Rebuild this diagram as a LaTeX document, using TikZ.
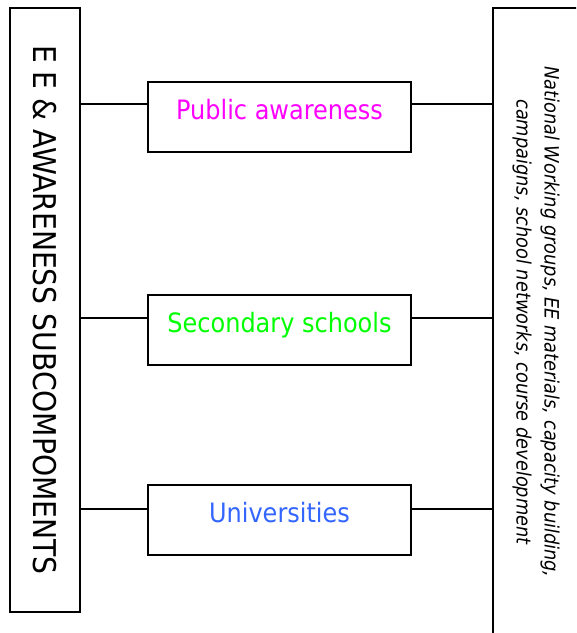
\documentclass[tikz,border=0pt]{standalone}
\usepackage{tikz}
\usepackage{xcolor}
\usepackage{fontspec}
\setmainfont{DejaVu Sans Condensed}
\definecolor{pubcol}{RGB}{255,0,255}
\definecolor{seccol}{RGB}{0,255,0}
\definecolor{unicol}{RGB}{51,102,255}

\begin{document}
\begin{tikzpicture}[x=0.75pt, y=-0.75pt, line width=1.1pt,
  sidebox/.style={draw, rotate=-90, inner sep=0pt},
  levelbox/.style={draw, minimum width=197.25pt, minimum height=52.5pt, text height=15pt, text depth=11pt, font=\fontsize{20}{24}\selectfont}]
\clip (0,0) rectangle (576,633);
\node[sidebox, minimum width=453pt, minimum height=52.5pt, font=\fontsize{23.5}{28}\selectfont] (ee) at (45,310) {E E \& AWARENESS SUBCOMPOMENTS};
\node[sidebox, minimum width=471pt, minimum height=64.5pt, align=center, font=\itshape\fontsize{14.8}{21}\selectfont] (nat) at (536,322) {National Working groups, EE materials, capacity building,\\ campaigns, school networks, course development};
\node[levelbox, text=pubcol] (pub) at (279.5,117) {Public awareness};
\node[levelbox, text=seccol] (sec) at (279.5,330) {Secondary schools};
\node[levelbox, text=unicol] (uni) at (279.5,520) {Universities};
\coordinate (row1) at (0,104);
\coordinate (row2) at (0,318);
\coordinate (row3) at (0,509);
\draw (ee.north |- row1) -- (pub.west |- row1);
\draw (pub.east |- row1) -- (nat.south |- row1);
\draw (ee.north |- row2) -- (sec.west |- row2);
\draw (sec.east |- row2) -- (nat.south |- row2);
\draw (ee.north |- row3) -- (uni.west |- row3);
\draw (uni.east |- row3) -- (nat.south |- row3);
\end{tikzpicture}
\end{document}
